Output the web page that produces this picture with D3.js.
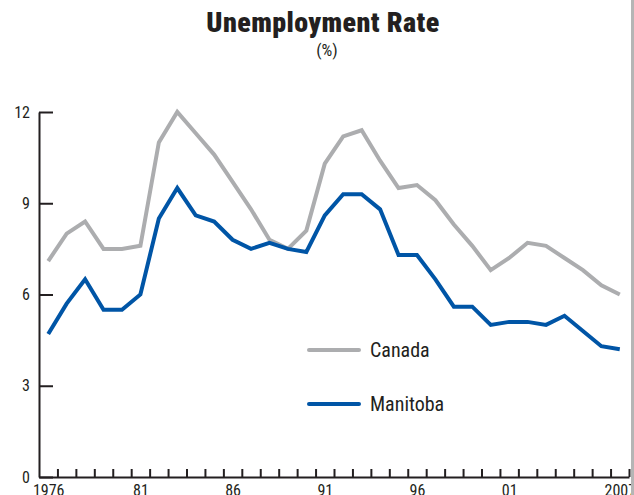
<!DOCTYPE html>
<html>
<head>
<meta charset="utf-8">
<script src="https://cdn.jsdelivr.net/npm/d3@7"></script>
<style>
  body { margin: 0; background: #fff; }
  text { font-family: "Liberation Sans Narrow", "Roboto Condensed", "Arial Narrow", sans-serif; fill: #231f20; }
</style>
</head>
<body>
<div id="chart"></div>
<script>
// unemployment rate, %, 1976 - 2007
var years = d3.range(1976, 2008);
var canada = [7.1, 8.0, 8.4, 7.5, 7.5, 7.6, 11.0, 12.0, 11.3, 10.6, 9.7, 8.8, 7.8, 7.5, 8.1, 10.3,
  11.2, 11.4, 10.4, 9.5, 9.6, 9.1, 8.3, 7.6, 6.8, 7.2, 7.7, 7.6, 7.2, 6.8, 6.3, 6.0];
var manitoba = [4.7, 5.7, 6.5, 5.5, 5.5, 6.0, 8.5, 9.5, 8.6, 8.4, 7.8, 7.5, 7.7, 7.5, 7.4, 8.6,
  9.3, 9.3, 8.8, 7.3, 7.3, 6.5, 5.6, 5.6, 5.0, 5.1, 5.1, 5.0, 5.3, 4.8, 4.3, 4.2];
var yTicks = [0, 3, 6, 9, 12];
var xLabels = [1976, 1981, 1986, 1991, 1996, 2001, 2007];
var xLabelText = ["1976", "81", "86", "91", "96", "01", "2007"];

var svgWidth = 634;
var svgHeight = 495;

var svg = d3.select("#chart")
  .append("svg")
  .attr("width", svgWidth)
  .attr("height", svgHeight);

// scales
var xScale = d3.scaleLinear()
  .domain([1975.5, 2007.5])
  .range([39, 629]);

var yScale = d3.scaleLinear()
  .domain([0, 12])
  .range([477, 112]);

// title
svg.append("text")
  .attr("x", 323)
  .attr("y", 32)
  .attr("text-anchor", "middle")
  .style("font-size", "28px")
  .style("font-weight", "900")
  .style("letter-spacing", "0.4px")
  .text("Unemployment Rate");

svg.append("text")
  .attr("x", 327)
  .attr("y", 56)
  .attr("text-anchor", "middle")
  .style("font-size", "17px")
  .text("(%)");

// y axis, ticks pointing inward
var leftAxis = d3.axisLeft(yScale)
  .tickValues(yTicks)
  .tickSize(-14)
  .tickSizeOuter(0)
  .tickPadding(9);

var yAxis = svg.append("g")
  .attr("transform", "translate(39,0)")
  .call(leftAxis);
yAxis.selectAll("line").attr("stroke", "#231f20").attr("stroke-width", 2);
yAxis.select(".domain").attr("stroke", "#231f20").attr("stroke-width", 2);
yAxis.selectAll("text").style("font-size", "16px").attr("fill", "#231f20");

// x axis: small ticks between years
var bottomAxis = d3.axisBottom(xScale)
  .tickValues(years.map(d => d + 0.5))
  .tickSize(-8)
  .tickSizeOuter(0)
  .tickFormat("");

var xAxis = svg.append("g")
  .attr("transform", "translate(0,477)")
  .call(bottomAxis);
xAxis.selectAll("line").attr("stroke", "#231f20").attr("stroke-width", 2);
xAxis.select(".domain").attr("stroke", "#231f20").attr("stroke-width", 2);

var labelAxis = d3.axisBottom(xScale)
  .tickValues(xLabels)
  .tickSize(0)
  .tickPadding(8)
  .tickFormat((d, i) => xLabelText[i]);

var xLab = svg.append("g")
  .attr("transform", "translate(0,477)")
  .call(labelAxis);
xLab.select(".domain").remove();
xLab.selectAll("text").style("font-size", "16px").attr("fill", "#231f20");

// lines
var line = d3.line()
  .x((d, i) => xScale(years[i]))
  .y(d => yScale(d));

svg.append("path")
  .datum(canada)
  .attr("d", line)
  .attr("fill", "none")
  .attr("stroke", "#acadaf")
  .attr("stroke-width", 4);

svg.append("path")
  .datum(manitoba)
  .attr("d", line)
  .attr("fill", "none")
  .attr("stroke", "#0055a6")
  .attr("stroke-width", 4);

// legend
var legend = [["Canada", "#acadaf", 350], ["Manitoba", "#0055a6", 404]];
legend.forEach(function(l) {
  svg.append("line")
    .attr("x1", 309).attr("x2", 359)
    .attr("y1", l[2]).attr("y2", l[2])
    .attr("stroke", l[1])
    .attr("stroke-width", 4)
    .attr("stroke-linecap", "round");
  svg.append("text")
    .attr("x", 370)
    .attr("y", l[2] + 7)
    .style("font-size", "20px")
    .text(l[0]);
});

// frame edge on the right
svg.append("rect")
  .attr("x", 631).attr("y", 0)
  .attr("width", 3).attr("height", svgHeight)
  .attr("fill", "#b5b5b5");
</script>
</body>
</html>
